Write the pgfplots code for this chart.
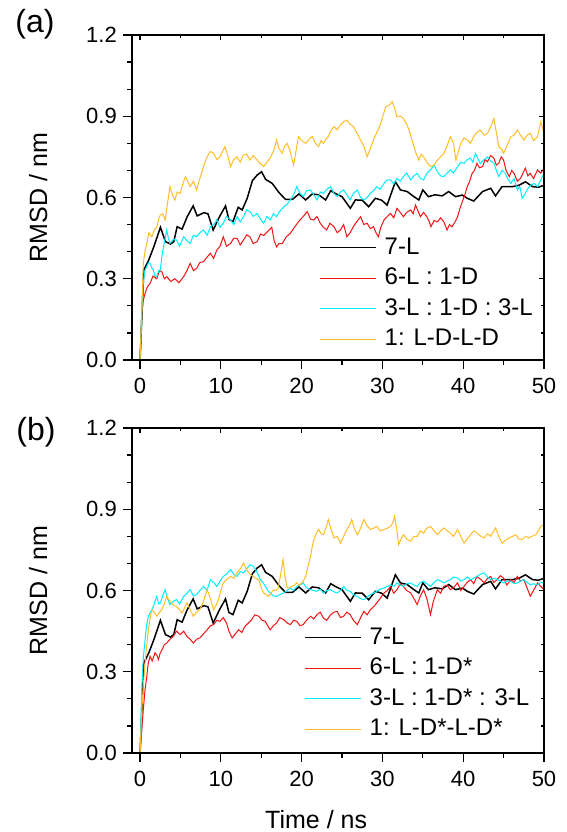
\documentclass[border=0pt]{standalone}
\usepackage{pgfplots}
\usepackage{pgfplotstable}
\pgfplotsset{compat=1.18}
\usepackage{fontspec}
\setmainfont{Liberation Sans}
\definecolor{myred}{RGB}{240,20,20}
\definecolor{mycyan}{RGB}{0,238,250}
\definecolor{myyellow}{RGB}{255,190,40}

\pgfplotstableread{
t v
0 0
0.46 0.332
1.07 0.369
1.7 0.418
2.52 0.49
3.14 0.437
3.76 0.428
4.17 0.437
4.59 0.492
5.2 0.483
5.83 0.529
6.57 0.569
7.07 0.532
7.9 0.544
8.4 0.54
9.05 0.48
9.83 0.529
10.58 0.569
11.0 0.519
11.5 0.511
12.15 0.564
12.64 0.554
13.26 0.597
13.9 0.662
14.5 0.683
15.04 0.695
15.54 0.667
16.36 0.652
17.2 0.618
18.0 0.593
18.86 0.593
19.67 0.613
20.5 0.591
21.3 0.613
22.1 0.61
22.97 0.591
23.6 0.625
24.17 0.615
25.0 0.603
26.03 0.56
26.65 0.591
27.5 0.59
28.3 0.566
29.13 0.597
29.9 0.59
30.58 0.572
31.6 0.658
32.23 0.628
33.06 0.622
33.9 0.603
34.5 0.591
35.0 0.628
35.7 0.603
36.5 0.61
37.4 0.606
38.2 0.622
39.05 0.603
39.9 0.609
40.5 0.597
41.3 0.587
42.4 0.622
43.4 0.634
44.0 0.606
44.8 0.64
46.1 0.64
46.9 0.645
47.7 0.658
48.6 0.64
49.3 0.638
50 0.645
}\blackdata

\pgfplotstableread{
t v
0 0
0.2 0.17
0.4 0.22
0.62 0.246
0.9 0.27
1.24 0.283
1.6 0.31
2.07 0.30
2.4 0.33
2.7 0.326
3.0 0.30
3.3 0.308
3.8 0.29
4.3 0.30
4.8 0.285
5.4 0.308
5.8 0.33
6.2 0.357
6.6 0.33
7.0 0.338
7.4 0.36
7.85 0.363
8.3 0.38
8.7 0.394
9.1 0.375
9.5 0.406
9.9 0.42
10.3 0.455
10.7 0.42
11.2 0.43
11.6 0.45
12.0 0.449
12.4 0.425
12.8 0.443
13.2 0.462
13.6 0.455
14.0 0.43
14.5 0.437
14.9 0.465
15.3 0.46
15.8 0.475
16.3 0.49
16.6 0.44
16.9 0.418
17.2 0.43
17.6 0.43
18.1 0.455
18.6 0.468
19.1 0.49
19.6 0.51
20.2 0.53
20.7 0.548
21.1 0.52
21.5 0.517
21.9 0.53
22.3 0.505
22.7 0.49
23.1 0.48
23.5 0.505
24.0 0.492
24.4 0.47
24.8 0.48
25.2 0.50
25.6 0.455
26.0 0.47
26.4 0.492
26.8 0.51
27.3 0.529
27.7 0.50
28.1 0.505
28.5 0.485
28.9 0.492
29.2 0.47
29.5 0.455
29.8 0.49
30.2 0.517
30.6 0.53
31.0 0.541
31.4 0.525
31.8 0.56
32.2 0.545
32.6 0.529
33.0 0.545
33.5 0.554
33.8 0.54
34.1 0.572
34.4 0.55
34.7 0.529
35.1 0.545
35.5 0.529
35.8 0.51
36.0 0.492
36.4 0.515
36.8 0.51
37.2 0.525
37.6 0.51
38.0 0.48
38.3 0.50
38.6 0.492
39.0 0.51
39.3 0.529
39.6 0.56
39.9 0.585
40.2 0.61
40.5 0.64
40.8 0.66
41.1 0.689
41.4 0.70
41.7 0.726
42.0 0.71
42.4 0.714
42.7 0.74
43.0 0.732
43.4 0.755
43.8 0.745
44.1 0.72
44.4 0.726
44.7 0.75
45.0 0.738
45.3 0.70
45.7 0.677
46.0 0.70
46.3 0.689
46.7 0.66
47.1 0.671
47.4 0.69
47.7 0.708
48.0 0.68
48.3 0.689
48.7 0.67
49.2 0.702
49.6 0.69
50 0.708
}\redA

\pgfplotstableread{
t v
0 0
0.2 0.17
0.4 0.283
0.6 0.33
0.83 0.345
1.05 0.36
1.24 0.357
1.45 0.34
1.65 0.332
1.85 0.31
2.07 0.308
2.3 0.33
2.5 0.332
2.7 0.38
2.9 0.418
3.1 0.45
3.3 0.48
3.5 0.45
3.7 0.43
4.1 0.445
4.5 0.443
4.9 0.42
5.4 0.455
5.8 0.44
6.2 0.43
6.6 0.46
7.0 0.455
7.4 0.47
7.85 0.48
8.3 0.46
8.7 0.492
9.1 0.50
9.5 0.517
9.9 0.49
10.3 0.505
10.7 0.53
11.2 0.517
11.6 0.50
12.0 0.529
12.4 0.51
12.8 0.529
13.2 0.555
13.6 0.548
14.0 0.53
14.5 0.541
14.9 0.52
15.3 0.505
15.7 0.53
16.1 0.517
16.5 0.54
16.9 0.529
17.3 0.55
17.8 0.566
18.2 0.575
18.6 0.591
19.0 0.61
19.4 0.64
19.8 0.615
20.2 0.603
20.6 0.625
21.1 0.628
21.5 0.61
21.9 0.591
22.3 0.62
22.7 0.615
23.1 0.63
23.6 0.64
24.0 0.615
24.4 0.603
24.8 0.62
25.2 0.628
25.6 0.61
26.0 0.591
26.4 0.615
26.9 0.628
27.3 0.60
27.7 0.591
28.1 0.60
28.5 0.615
28.9 0.625
29.3 0.64
29.7 0.63
30.2 0.652
30.6 0.665
31.0 0.665
31.4 0.65
31.8 0.671
32.2 0.66
32.6 0.677
33.0 0.69
33.5 0.665
33.9 0.68
34.3 0.689
34.7 0.67
35.1 0.665
35.5 0.69
35.95 0.702
36.4 0.72
36.8 0.695
37.2 0.68
37.6 0.677
38.0 0.69
38.4 0.702
38.8 0.69
39.3 0.714
39.7 0.73
40.1 0.726
40.5 0.74
40.9 0.745
41.2 0.73
41.5 0.763
41.8 0.745
42.1 0.726
42.6 0.74
43.0 0.75
43.4 0.735
43.8 0.726
44.1 0.70
44.4 0.677
44.8 0.70
45.2 0.689
45.5 0.67
45.9 0.652
46.3 0.67
46.7 0.628
47.0 0.64
47.3 0.597
47.6 0.61
47.9 0.628
48.3 0.645
48.8 0.652
49.2 0.64
49.6 0.665
50 0.689
}\cyanA

\pgfplotstableread{
t v
0 0
0.2 0.17
0.4 0.357
0.6 0.40
0.83 0.43
1.1 0.47
1.45 0.455
1.75 0.48
2.07 0.49
2.3 0.52
2.5 0.535
2.8 0.54
3.1 0.517
3.4 0.58
3.7 0.64
4.0 0.61
4.3 0.59
4.6 0.62
4.96 0.615
5.3 0.65
5.6 0.677
5.9 0.66
6.2 0.64
6.6 0.66
7.0 0.628
7.3 0.66
7.6 0.689
7.9 0.72
8.3 0.75
8.7 0.77
9.1 0.763
9.5 0.74
9.9 0.75
10.2 0.77
10.5 0.788
10.8 0.76
11.2 0.714
11.6 0.74
12.0 0.75
12.4 0.73
12.8 0.757
13.2 0.76
13.6 0.738
14.0 0.755
14.5 0.738
14.9 0.725
15.3 0.714
15.7 0.73
16.1 0.745
16.5 0.77
16.9 0.812
17.2 0.78
17.6 0.763
17.9 0.79
18.2 0.80
18.6 0.77
19.0 0.72
19.3 0.77
19.6 0.825
20.0 0.81
20.5 0.80
20.9 0.815
21.3 0.825
21.7 0.80
22.1 0.788
22.4 0.81
22.7 0.80
23.0 0.815
23.3 0.825
23.6 0.845
24.0 0.862
24.4 0.85
24.8 0.868
25.2 0.88
25.6 0.886
26.0 0.87
26.4 0.862
26.8 0.84
27.3 0.812
27.7 0.79
28.1 0.75
28.5 0.78
28.9 0.812
29.3 0.84
29.8 0.874
30.1 0.905
30.4 0.935
30.8 0.94
31.2 0.954
31.5 0.93
31.8 0.898
32.2 0.90
32.6 0.892
33.0 0.87
33.3 0.849
33.6 0.82
33.9 0.788
34.2 0.76
34.5 0.738
34.8 0.76
35.1 0.75
35.5 0.73
35.95 0.714
36.4 0.72
36.8 0.738
37.2 0.75
37.6 0.763
38.0 0.79
38.4 0.825
38.8 0.80
39.1 0.738
39.4 0.77
39.7 0.80
40.1 0.82
40.5 0.812
40.9 0.80
41.3 0.825
41.7 0.84
42.1 0.849
42.6 0.83
43.0 0.837
43.4 0.86
43.8 0.892
44.1 0.84
44.4 0.788
44.7 0.78
45.0 0.763
45.4 0.79
45.9 0.825
46.3 0.83
46.7 0.849
47.1 0.83
47.5 0.812
47.9 0.83
48.3 0.837
48.7 0.81
49.2 0.825
49.6 0.88
50 0.837
}\yelA

\pgfplotstableread{
t v
0 0
0.4 0.16
0.6 0.23
0.83 0.283
1.0 0.33
1.24 0.357
1.5 0.34
1.86 0.37
2.1 0.36
2.27 0.345
2.5 0.37
2.7 0.38
3.0 0.40
3.3 0.406
3.7 0.42
4.1 0.43
4.5 0.45
4.96 0.437
5.4 0.45
5.8 0.43
6.2 0.42
6.6 0.406
7.0 0.42
7.4 0.425
7.85 0.44
8.3 0.455
8.7 0.47
9.1 0.474
9.5 0.49
9.9 0.486
10.3 0.50
10.7 0.48
11.0 0.45
11.4 0.425
11.8 0.44
12.2 0.455
12.6 0.445
13.0 0.468
13.4 0.48
13.8 0.492
14.2 0.51
14.7 0.505
15.1 0.49
15.5 0.486
15.8 0.47
16.1 0.455
16.5 0.47
16.9 0.48
17.3 0.50
17.8 0.492
18.2 0.48
18.6 0.474
19.0 0.49
19.4 0.486
19.8 0.47
20.2 0.474
20.6 0.49
21.1 0.505
21.5 0.495
21.9 0.511
22.3 0.52
22.7 0.498
23.1 0.49
23.6 0.511
24.0 0.52
24.4 0.523
24.8 0.50
25.2 0.505
25.6 0.52
26.0 0.511
26.4 0.49
26.9 0.474
27.3 0.50
27.7 0.523
28.1 0.51
28.5 0.529
28.9 0.54
29.3 0.554
29.7 0.57
30.2 0.591
30.6 0.60
31.0 0.615
31.4 0.59
31.8 0.603
32.2 0.625
32.6 0.615
33.0 0.60
33.5 0.591
33.9 0.57
34.3 0.548
34.7 0.58
35.1 0.603
35.5 0.57
35.95 0.511
36.3 0.56
36.8 0.603
37.2 0.59
37.6 0.615
38.0 0.62
38.4 0.603
38.8 0.61
39.3 0.628
39.7 0.60
40.1 0.615
40.5 0.63
40.9 0.64
41.3 0.625
41.7 0.652
42.2 0.64
42.6 0.628
43.0 0.645
43.4 0.652
43.8 0.63
44.2 0.64
44.6 0.655
45.0 0.646
45.4 0.62
45.9 0.64
46.3 0.63
46.7 0.652
47.1 0.635
47.5 0.64
47.9 0.61
48.3 0.579
48.7 0.60
49.2 0.628
49.6 0.615
50 0.603
}\redB

\pgfplotstableread{
t v
0 0
0.2 0.234
0.4 0.35
0.62 0.418
0.8 0.47
1.03 0.505
1.3 0.52
1.65 0.541
1.85 0.56
2.07 0.578
2.3 0.55
2.5 0.554
2.8 0.58
3.1 0.603
3.4 0.57
3.7 0.548
4.1 0.56
4.5 0.566
4.9 0.55
5.4 0.578
5.8 0.59
6.2 0.603
6.6 0.58
7.0 0.585
7.4 0.60
7.85 0.615
8.3 0.60
8.7 0.64
9.1 0.63
9.5 0.615
9.9 0.635
10.3 0.652
10.7 0.66
11.2 0.677
11.6 0.66
12.0 0.652
12.4 0.67
12.8 0.665
13.2 0.68
13.6 0.695
14.0 0.69
14.3 0.677
14.6 0.66
14.9 0.64
15.2 0.63
15.5 0.615
15.8 0.60
16.1 0.591
16.5 0.58
16.9 0.578
17.3 0.585
17.8 0.591
18.2 0.60
18.6 0.609
19.0 0.60
19.4 0.615
19.8 0.62
20.2 0.628
20.6 0.61
21.1 0.603
21.5 0.60
21.9 0.597
22.3 0.605
22.7 0.591
23.1 0.60
23.6 0.603
24.0 0.595
24.4 0.591
24.8 0.60
25.2 0.615
25.6 0.60
26.0 0.597
26.4 0.585
26.9 0.578
27.3 0.57
27.7 0.566
28.1 0.575
28.5 0.585
28.9 0.59
29.3 0.597
29.7 0.605
30.2 0.609
30.6 0.615
31.0 0.621
31.4 0.615
31.8 0.628
32.2 0.62
32.6 0.615
33.0 0.625
33.5 0.628
33.9 0.62
34.3 0.615
34.7 0.63
35.1 0.634
35.5 0.625
35.95 0.615
36.4 0.63
36.8 0.64
37.2 0.635
37.6 0.628
38.0 0.635
38.4 0.64
38.8 0.65
39.3 0.646
39.7 0.635
40.1 0.64
40.5 0.65
40.9 0.64
41.3 0.645
41.7 0.652
42.1 0.66
42.6 0.665
43.0 0.65
43.4 0.64
43.8 0.645
44.2 0.64
44.6 0.635
45.0 0.628
45.4 0.635
45.9 0.634
46.3 0.625
46.7 0.628
47.1 0.635
47.5 0.64
47.9 0.63
48.3 0.621
48.7 0.625
49.2 0.621
49.6 0.63
50 0.628
}\cyanB

\pgfplotstableread{
t v
0 0
0.2 0.148
0.4 0.25
0.62 0.332
0.83 0.40
1.03 0.455
1.25 0.50
1.45 0.529
1.75 0.52
2.07 0.505
2.4 0.52
2.7 0.529
3.0 0.55
3.3 0.578
3.6 0.565
3.9 0.554
4.2 0.545
4.5 0.541
4.85 0.53
5.2 0.517
5.5 0.535
5.8 0.554
6.2 0.53
6.6 0.505
7.0 0.52
7.4 0.529
7.85 0.56
8.3 0.603
8.7 0.57
9.1 0.529
9.4 0.545
9.7 0.566
10.0 0.60
10.3 0.628
10.7 0.64
11.2 0.652
11.6 0.645
12.0 0.665
12.4 0.68
12.8 0.702
13.2 0.677
13.6 0.66
14.0 0.652
14.3 0.645
14.7 0.64
15.0 0.61
15.3 0.591
15.6 0.585
15.9 0.578
16.2 0.59
16.5 0.603
16.8 0.60
17.1 0.609
17.4 0.66
17.7 0.714
17.9 0.66
18.2 0.609
18.5 0.61
18.8 0.615
19.1 0.62
19.4 0.628
19.7 0.62
20.0 0.628
20.3 0.64
20.5 0.652
20.8 0.69
21.1 0.726
21.3 0.76
21.5 0.788
21.8 0.81
22.1 0.825
22.4 0.81
22.7 0.806
23.0 0.83
23.3 0.862
23.6 0.83
24.0 0.794
24.4 0.80
24.8 0.775
25.2 0.80
25.6 0.825
25.9 0.84
26.2 0.862
26.5 0.83
26.9 0.806
27.3 0.83
27.7 0.862
28.1 0.84
28.5 0.825
28.9 0.83
29.3 0.837
29.7 0.82
30.2 0.825
30.6 0.83
31.0 0.837
31.3 0.85
31.5 0.874
31.8 0.82
32.0 0.769
32.3 0.79
32.6 0.806
33.0 0.79
33.5 0.782
33.9 0.80
34.3 0.80
34.7 0.82
35.1 0.812
35.5 0.83
35.95 0.837
36.4 0.82
36.8 0.806
37.2 0.82
37.6 0.831
38.0 0.82
38.4 0.812
38.8 0.80
39.3 0.825
39.7 0.80
40.1 0.775
40.5 0.79
40.9 0.806
41.3 0.82
41.7 0.812
42.2 0.80
42.6 0.794
43.0 0.81
43.4 0.80
43.7 0.815
44.0 0.831
44.4 0.80
44.8 0.775
45.2 0.785
45.7 0.794
46.1 0.80
46.5 0.806
46.9 0.79
47.3 0.788
47.7 0.80
48.1 0.794
48.5 0.80
49.0 0.806
49.3 0.82
49.6 0.837
50 0.843
}\yelB

\pgfplotsset{
  panel/.style={
    scale only axis, width=412bp, height=325bp,
    xmin=-1, xmax=50, ymin=0, ymax=1.2,
    xtick={0,10,...,50}, ytick={0,0.3,0.6,0.9,1.2},
    minor x tick num=1, minor y tick num=2,
    tick align=outside, xtick pos=bottom, ytick pos=left,
    major tick length=9bp, minor tick length=5bp,
    axis line style={line width=1.2bp},
    every tick/.style={line width=1.2bp, black},
    tick label style={font=\fontsize{22bp}{26bp}\selectfont, inner sep=2bp},
    xticklabel style={yshift=-7bp},
    /pgf/number format/assume math mode=true,
    yticklabel style={xshift=-4bp, /pgf/number format/.cd, fixed, fixed zerofill, precision=1},
    label style={font=\fontsize{25bp}{30bp}\selectfont},
    ylabel={RMSD / nm},
    ylabel style={at={(axis description cs:-0.228,0.5)}, anchor=center},
    legend style={draw=none, fill=none, inner sep=0pt, anchor=north west,
      font=\fontsize{24bp}{28bp}\selectfont,
      nodes={inner sep=0pt, text height=18bp, text depth=5bp},
      row sep=7.5bp,
      /tikz/every even column/.append style={column sep=0bp}},
    legend cell align=left,
    legend image code/.code={\draw[#1] (0bp,0bp) -- (56bp,0bp);},
  },
  mirror/.style={
    scale only axis, width=412bp, height=325bp,
    xmin=-1, xmax=50, ymin=0, ymax=1.2,
    xtick={0,10,...,50}, ytick={0,0.3,0.6,0.9,1.2},
    minor x tick num=1, minor y tick num=2,
    tick align=inside, xtick pos=right, ytick pos=right,
    major tick length=5bp, minor tick length=3bp,
    axis line style={line width=1.2bp},
    every tick/.style={line width=1.2bp, black},
    xticklabels={}, yticklabels={},
  },
}

\begin{document}
\begin{tikzpicture}
\useasboundingbox (0,0) rectangle (567bp,832bp);
% top panel
\begin{axis}[panel, at={(132bp,472bp)}, anchor=south west,
  legend style={at={(axis description cs:0.454,0.3815)}}]
\addplot[black, line width=1.5bp] table[x=t,y=v] {\blackdata};
\addlegendentry{\hspace{8bp}7-L}
\addplot[myred, line width=1bp] table[x=t,y=v] {\redA};
\addlegendentry{\hspace{8bp}6-L : 1-D}
\addplot[mycyan, line width=1bp] table[x=t,y=v] {\cyanA};
\addlegendentry{\hspace{8bp}3-L : 1-D : 3-L}
\addplot[myyellow, line width=1bp] table[x=t,y=v] {\yelA};
\addlegendentry{\hspace{8bp}1: L-D-L-D}
\end{axis}
\begin{axis}[mirror, at={(132bp,472bp)}, anchor=south west]
\end{axis}
% bottom panel
\begin{axis}[panel, at={(132bp,79bp)}, anchor=south west,
  xlabel={Time / ns},
  xlabel style={at={(axis description cs:0.447,-0.231)}, anchor=base},
  legend style={at={(axis description cs:0.4175,0.391)}}]
\addplot[black, line width=1.5bp] table[x=t,y=v] {\blackdata};
\addlegendentry{\hspace{8bp}7-L}
\addplot[myred, line width=1bp] table[x=t,y=v] {\redB};
\addlegendentry{\hspace{8bp}6-L : 1-D*}
\addplot[mycyan, line width=1bp] table[x=t,y=v] {\cyanB};
\addlegendentry{\hspace{8bp}3-L : 1-D* : 3-L}
\addplot[myyellow, line width=1bp] table[x=t,y=v] {\yelB};
\addlegendentry{\hspace{8bp}1: L-D*-L-D*}
\end{axis}
\begin{axis}[mirror, at={(132bp,79bp)}, anchor=south west]
\end{axis}
\node[font=\fontsize{32bp}{36bp}\selectfont] at (35bp,808bp) {(a)};
\node[font=\fontsize{32bp}{36bp}\selectfont] at (36bp,400bp) {(b)};
\end{tikzpicture}
\end{document}
